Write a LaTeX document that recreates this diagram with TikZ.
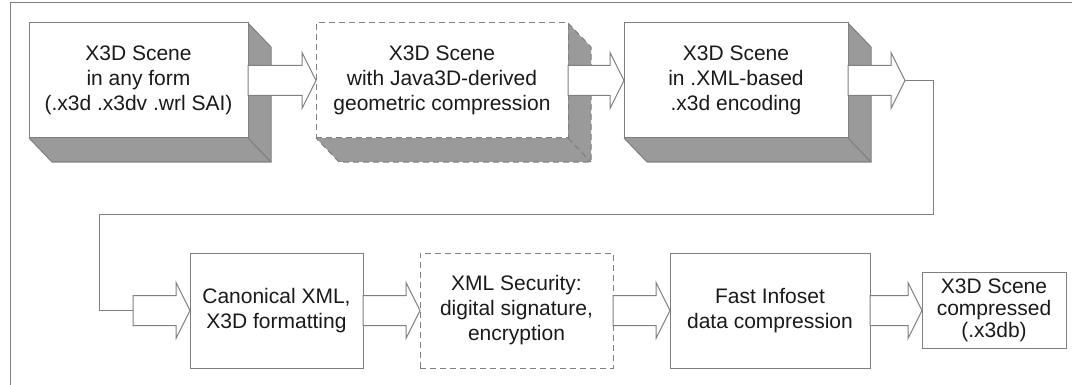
\documentclass[tikz,border=0pt]{standalone}
\usepackage{fontspec}
\setmainfont{Liberation Sans}
\usetikzlibrary{calc,backgrounds}

\definecolor{edgegray}{HTML}{7F7F7F}
\definecolor{shadegray}{HTML}{9A9A9A}
\definecolor{inkgray}{HTML}{1A1A1A}

% block arrow from the east side of one node to a tip point
\newcommand{\blockarrow}[2]{%
  \draw[barrow] let \p1=(#1), \p2=(#2) in
    (\x1,\y1+11.25pt) -- (\x2-10.5pt,\y1+11.25pt) -- (\x2-10.5pt,\y1+21pt)
    -- (\x2,\y1) -- (\x2-10.5pt,\y1-21pt) -- (\x2-10.5pt,\y1-11.25pt)
    -- (\x1,\y1-11.25pt) -- cycle;}

% the grey depth below and right of a box
\newcommand{\boxdepth}[2][]{%
  \fill[shadegray] (#2.north east) -- ++(23,24) -- ($(#2.south east)+(23,24)$)
    -- ($(#2.south west)+(23,24)$) -- (#2.south west) -- cycle;
  \draw[edge,#1] (#2.north east) -- ++(23,24) -- ($(#2.south east)+(23,24)$)
    -- ($(#2.south west)+(23,24)$) -- (#2.south west);
  \draw[edge,#1] (#2.south east) -- ++(23,24);}

\begin{document}
\begin{tikzpicture}[x=0.75pt,y=-0.75pt,
    edge/.style={draw=edgegray, line width=0.75pt},
    stage/.style={edge, fill=white, align=center, inner sep=0pt, outer sep=0pt,
      text=inkgray, font=\fontsize{15.75}{18.75}\selectfont},
    optional/.style={dash pattern=on 4.5pt off 3pt},
    barrow/.style={edge, fill=white, line join=miter},
    link/.style={edge}]
  \useasboundingbox (0,0) rectangle (1072,385);
  % frame
  \draw[edge] (1072,3) -- (10,3) -- (10,385);

  % top row
  \node[stage, minimum width=164.25pt, minimum height=86.25pt] (scene) at (138.5,80.5)
    {X3D Scene\\in any form\\(.x3d .x3dv .wrl SAI)};
  \node[stage, optional, minimum width=189pt, minimum height=86.25pt] (geom) at (442,80.5)
    {X3D Scene\\with Java3D-derived\\geometric compression};
  \node[stage, minimum width=168pt, minimum height=86.25pt] (xmlenc) at (736,80.5)
    {X3D Scene\\in .XML-based\\.x3d encoding};

  % bottom row
  \node[stage, minimum width=129.75pt, minimum height=86.25pt] (canon) at (276.5,310.5)
    {Canonical XML,\\X3D formatting};
  \node[stage, optional, minimum width=144.75pt, minimum height=86.25pt] (secure) at (516.5,310.5)
    {XML Security:\\digital signature,\\encryption};
  \node[stage, minimum width=150pt, minimum height=86.25pt] (infoset) at (770,310.5)
    {Fast Infoset\\data compression};
  \node[stage, minimum width=108pt, minimum height=57pt,
        font=\fontsize{15.75}{16.5}\selectfont] (x3db) at (994,310.5)
    {X3D Scene\\compressed\\(.x3db)};

  \begin{scope}[on background layer]
    \boxdepth{scene}
    \boxdepth[optional]{geom}
    \boxdepth{xmlenc}
  \end{scope}

  \coordinate (turn) at (905,80.5);
  \coordinate (entry) at (133,310.5);

  % arrows
  \blockarrow{scene.east}{geom.west}
  \blockarrow{geom.east}{xmlenc.west}
  \blockarrow{xmlenc.east}{turn}
  \draw[link] (turn) -- ++(28,0) |- (99,214) |- (entry);
  \blockarrow{entry}{canon.west}
  \blockarrow{canon.east}{secure.west}
  \blockarrow{secure.east}{infoset.west}
  \blockarrow{infoset.east}{x3db.west}
\end{tikzpicture}
\end{document}
